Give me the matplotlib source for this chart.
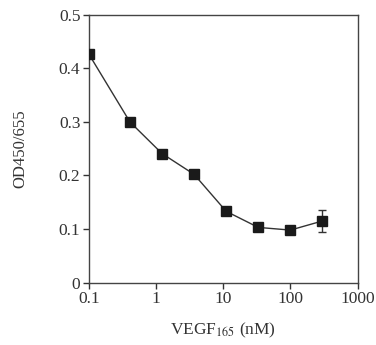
import matplotlib
matplotlib.use("Agg")
import matplotlib.pyplot as plt

# ── data ──────────────────────────────────────────────────────────────────────
vegf_nM = [0.1, 0.41, 1.23, 3.7, 11.1, 33.3, 100, 300]
od      = [0.427, 0.300, 0.241, 0.202, 0.133, 0.103, 0.098, 0.115]
od_err  = [0, 0, 0, 0, 0, 0, 0, 0.021]

xticks  = [0.1, 1, 10, 100, 1000]
xlabels = ["0.1", "1", "10", "100", "1000"]
yticks  = [0, 0.1, 0.2, 0.3, 0.4, 0.5]
ylabels = ["0", "0.1", "0.2", "0.3", "0.4", "0.5"]

plt.rcParams["font.family"] = ["Liberation Serif", "DejaVu Serif"]
plt.rcParams["mathtext.fontset"] = "stix"

fig = plt.figure(figsize=(3.76, 3.45), dpi=100)
ax = fig.add_axes([0.236, 0.181, 0.715, 0.776])

ax.plot(vegf_nM, od, color="#333333", lw=1.0, zorder=2)
ax.errorbar(vegf_nM[-1:], od[-1:], yerr=od_err[-1:], fmt="none",
            ecolor="#333333", elinewidth=1.0, capsize=3, capthick=1.0, zorder=2)
ax.plot(vegf_nM, od, ls="none", marker="s", ms=7, color="#1a1a1a", zorder=3)

ax.set_xscale("log")
ax.set_xlim(0.1, 1000)
ax.set_ylim(0, 0.5)
ax.set_xticks(xticks)
ax.set_xticklabels(xlabels)
ax.set_yticks(yticks)
ax.set_yticklabels(ylabels)
ax.minorticks_off()
ax.tick_params(direction="out", length=4, width=1, colors="#333333",
               labelsize=12.5, labelcolor="#333333", pad=2)
for s in ax.spines.values():
    s.set_color("#444444")
    s.set_linewidth(1.0)

ax.set_xlabel(r"VEGF$_{165}$ (nM)", fontsize=12.5, color="#333333", labelpad=10)
ax.set_ylabel("OD450/655", fontsize=12, color="#333333", labelpad=22)

fig.savefig("out.png", dpi=100)
